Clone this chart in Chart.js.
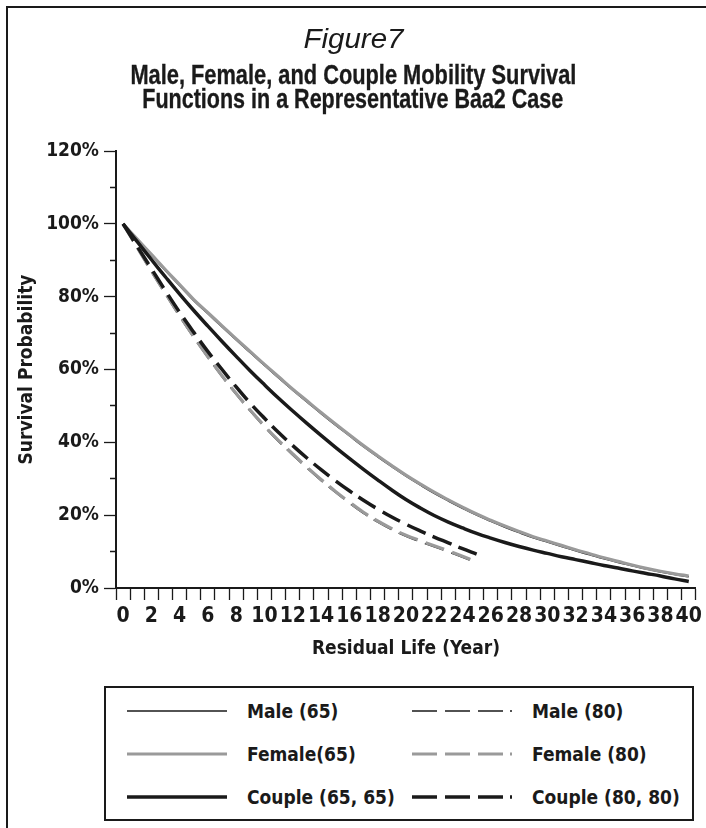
<!DOCTYPE html>
<html>
<head>
<meta charset="utf-8">
<script src="https://cdn.jsdelivr.net/npm/chart.js@4.4.1/dist/chart.umd.min.js"></script>
<style>
  html, body { margin: 0; padding: 0; background: #fff; width: 706px; height: 828px; overflow: hidden; }
  #frame { position: absolute; left: 6px; top: 6px; width: 760px; height: 900px; border: 2px solid #1a1a1a; box-sizing: border-box; }
  #wrap { position: absolute; left: 0; top: 0; width: 706px; height: 672px; }
  .ttl { position: absolute; left: 0; width: 706px; text-align: center; color: #1a1a1a; white-space: nowrap; }
  .ttl span { display: inline-block; transform-origin: 50% 50%; }
  #fig { top: 25px; font: italic 28px/28px "Liberation Sans", Arial, sans-serif; }
  #t1 { top: 62px; font: bold 28.5px/25px "Liberation Sans", Arial, sans-serif; -webkit-text-stroke: 0.35px #1a1a1a; }
  #t2 { top: 86px; font: bold 28.5px/25px "Liberation Sans", Arial, sans-serif; -webkit-text-stroke: 0.35px #1a1a1a; }
  #legend { position: absolute; left: 104px; top: 686px; width: 590px; height: 135px; border: 2px solid #1a1a1a; box-sizing: border-box; background: #fff; }
  .item { position: absolute; height: 30px; display: flex; align-items: center; color: #1a1a1a; font-weight: bold; font-size: 19px; white-space: nowrap; }
  .item svg { display: block; margin-right: 20px; }
</style>
</head>
<body>
<div id="frame"></div>
<div id="wrap"><canvas id="chart" width="706" height="672"></canvas></div>
<div class="ttl" id="fig"><span>Figure7</span></div>
<div class="ttl" id="t1"><span>Male, Female, and Couple Mobility Survival</span></div>
<div class="ttl" id="t2"><span>Functions in a Representative Baa2 Case</span></div>
<div id="legend"></div>
<script>
// 数据 — 存活概率 (%)
const years = [0, 1, 2, 3, 4, 5, 6, 7, 8, 9, 10, 11, 12, 13, 14, 15, 16, 17, 18, 19, 20,
  21, 22, 23, 24, 25, 26, 27, 28, 29, 30, 31, 32, 33, 34, 35, 36, 37, 38, 39, 40];

const female65 = [100, 95.8, 91.6, 87.4, 83.3, 79.2, 75.6, 72.0, 68.4, 64.9, 61.4,
  58.0, 54.6, 51.4, 48.2, 45.1, 42.1, 39.1, 36.3, 33.6, 31.0,
  28.6, 26.3, 24.2, 22.2, 20.3, 18.6, 17.0, 15.5, 14.1, 12.9,
  11.7, 10.5, 9.4, 8.3, 7.3, 6.3, 5.4, 4.6, 3.9, 3.3];
const male65 = [100, 95.6, 91.3, 87.1, 83.0, 78.9, 75.3, 71.7, 68.1, 64.6, 61.1,
  57.7, 54.3, 51.1, 47.9, 44.8, 41.8, 38.8, 36.0, 33.3, 30.7,
  28.3, 26.0, 23.9, 21.9, 20.0, 18.3, 16.7, 15.2, 13.8, 12.6,
  11.4, 10.2, 9.1, 8.0, 7.0, 6.1, 5.2, 4.4, 3.7, 3.1];
const couple65 = [100, 95.1, 90.2, 85.4, 80.7, 76.2, 71.9, 67.7, 63.6, 59.6, 55.8,
  52.1, 48.6, 45.2, 41.9, 38.7, 35.6, 32.6, 29.7, 26.9, 24.3,
  22.0, 19.9, 18.1, 16.5, 15.0, 13.7, 12.5, 11.4, 10.4, 9.5,
  8.6, 7.8, 7.0, 6.2, 5.5, 4.7, 4.0, 3.3, 2.5, 1.8];
const female80 = [100, 93.5, 87.1, 80.9, 74.8, 69.0, 63.5, 58.3, 53.4, 48.8, 44.5,
  40.5, 36.8, 33.2, 29.8, 26.6, 23.6, 20.8, 18.4, 16.3, 14.5,
  13.0, 11.6, 10.2, 8.7, 7.2];
const male80 = [100, 93.3, 86.8, 80.6, 74.5, 68.7, 63.2, 58.0, 53.1, 48.5, 44.2,
  40.2, 36.5, 32.9, 29.5, 26.3, 23.3, 20.5, 18.1, 16.0, 14.2,
  12.7, 11.3, 9.9, 8.4, 6.9];
const couple80 = [100, 93.8, 87.7, 81.6, 75.7, 70.2, 64.9, 60.0, 55.2, 50.7, 46.6,
  42.7, 39.1, 35.7, 32.5, 29.5, 26.7, 24.1, 21.7, 19.5, 17.5,
  15.7, 14.0, 12.4, 10.8, 9.3];

const yTickLabels = ['0%', '20%', '40%', '60%', '80%', '100%', '120%'];

// 字体：优先找窄体
function hasFont(name) {
  const c = document.createElement('canvas').getContext('2d');
  const s = 'Male, Female 0123456789%';
  c.font = 'bold 20px monospace';
  const a = c.measureText(s).width;
  c.font = 'bold 20px "' + name + '", monospace';
  return c.measureText(s).width !== a;
}
const FAMILY = ['Liberation Sans Narrow', 'Arial Narrow', 'DejaVu Sans Condensed', 'Roboto Condensed', 'Roboto']
  .find(hasFont) || 'sans-serif';
const FONT = '"' + FAMILY + '", "Liberation Sans", sans-serif';
Chart.defaults.font.family = FONT;
Chart.defaults.color = '#1a1a1a';

// 标题压窄到原图宽度
function squeeze(id, target) {
  const span = document.querySelector('#' + id + ' span');
  const w = span.getBoundingClientRect().width;
  span.style.transform = 'scaleX(' + (target / w) + ')';
}
squeeze('fig', 100);
squeeze('t1', 446);
squeeze('t2', 421);

const INK = '#1a1a1a';
const GREY = '#9a9a9a';

const series = [
  { label: 'Male (65)', data: male65, color: INK, width: 1.5, dash: [], order: 3 },
  { label: 'Male (80)', data: male80, color: INK, width: 1.5, dash: [20, 8], order: 3 },
  { label: 'Female(65)', data: female65, color: GREY, width: 3.2, dash: [], order: 2 },
  { label: 'Female (80)', data: female80, color: GREY, width: 3.2, dash: [20, 8], order: 2 },
  { label: 'Couple (65, 65)', data: couple65, color: INK, width: 3.5, dash: [], order: 1 },
  { label: 'Couple (80, 80)', data: couple80, color: INK, width: 3.5, dash: [20, 8], order: 1 }
];

const chart = new Chart(document.getElementById('chart'), {
  type: 'line',
  data: {
    labels: years,
    datasets: series.map(s => ({
      label: s.label,
      data: s.data,
      borderColor: s.color,
      borderWidth: s.width,
      borderDash: s.dash,
      order: s.order,
      fill: false,
      tension: 0.4,
      pointRadius: 0
    }))
  },
  options: {
    responsive: false,
    animation: false,
    layout: { padding: { left: 0, right: 8, top: 151, bottom: 0 } },
    plugins: {
      legend: { display: false },
      tooltip: { enabled: false }
    },
    scales: {
      x: {
        type: 'category',
        offset: true,
        afterFit: (s) => { s.height = 84; },
        grid: { offset: true, drawOnChartArea: false, drawTicks: true, tickLength: 12, tickColor: INK, tickWidth: 1.3 },
        border: { color: INK, width: 2 },
        ticks: {
          autoSkip: false, maxRotation: 0, minRotation: 0, padding: 4,
          color: INK,
          font: { size: 21, weight: 'bold' },
          callback: (v, i) => (i % 2 === 0 ? String(years[i]) : '')
        },
        title: {
          display: true, text: 'Residual Life (Year)', color: INK,
          font: { size: 19, weight: 'bold' },
          padding: { top: 0, bottom: 12 }
        }
      },
      y: {
        min: 0, max: 120,
        afterFit: (s) => { s.width = 116; },
        grid: {
          drawOnChartArea: false, drawTicks: true, tickLength: 12, tickColor: INK, tickWidth: 1.3,
          // 小刻度只画靠轴的一半
          tickBorderDash: (ctx) => (ctx.tick && ctx.tick.value % 20 !== 0 ? [0, 6, 20] : [])
        },
        border: { color: INK, width: 2 },
        ticks: {
          stepSize: 5, padding: 5, color: INK,
          font: { size: 19, weight: 'bold' },
          callback: (v) => (v % 20 === 0 ? yTickLabels[v / 20] : '')
        },
        title: {
          display: true, text: 'Survival Probability', color: INK,
          font: { size: 19, weight: 'bold' },
          padding: { top: 16, bottom: 0 }
        }
      }
    }
  }
});

// 图例 — 两列三行
const legendPos = [
  { col: 0, row: 0 }, { col: 1, row: 0 },
  { col: 0, row: 1 }, { col: 1, row: 1 },
  { col: 0, row: 2 }, { col: 1, row: 2 }
];
const colX = [21, 306];
const rowY = [8, 51, 94];
const legendEl = document.getElementById('legend');
series.forEach((s, i) => {
  const p = legendPos[i];
  const dashed = s.dash.length > 0;
  const item = document.createElement('div');
  item.className = 'item';
  item.style.left = colX[p.col] + 'px';
  item.style.top = rowY[p.row] + 'px';
  item.style.fontFamily = FONT;
  item.innerHTML =
    '<svg width="100" height="10"><line x1="0" y1="5" x2="100" y2="5" stroke="' + s.color +
    '" stroke-width="' + s.width + '"' + (dashed ? ' stroke-dasharray="25 8 25 8 25 7 2 20"' : '') +
    '/></svg><span>' + s.label + '</span>';
  legendEl.appendChild(item);
});
</script>
</body>
</html>
